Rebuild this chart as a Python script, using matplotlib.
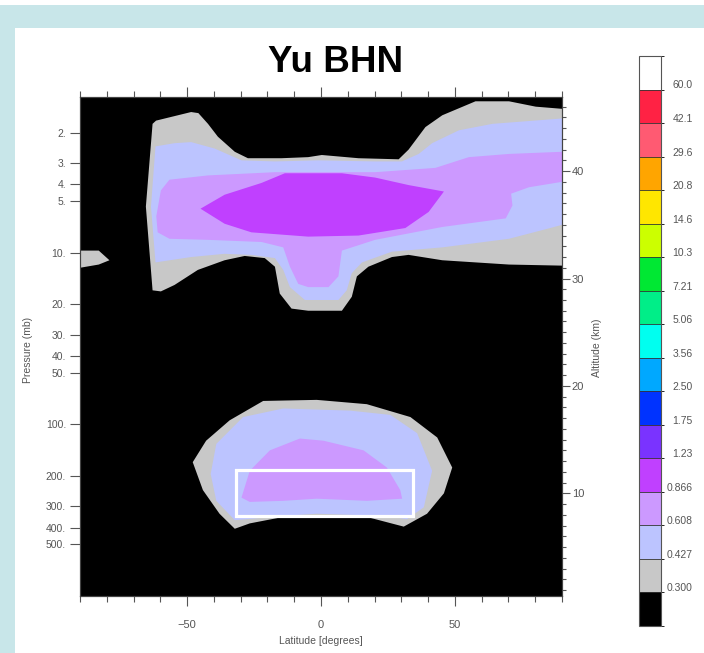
import numpy as np
import matplotlib.pyplot as plt
import matplotlib.cm as cm
from matplotlib.colors import ListedColormap, BoundaryNorm
from matplotlib.patches import Rectangle
from matplotlib.ticker import MultipleLocator

# colour scale (bottom -> top) and boundary labels
level_colors = ['#000000', '#c8c8c8', '#bcc4ff', '#cc99ff', '#c040ff', '#7a33ff',
                '#0033ff', '#00a8ff', '#00fff0', '#00ee88', '#00e833', '#ccff00',
                '#ffe600', '#ffa500', '#ff5a72', '#ff2244', '#ffffff']
level_labels = ['0.300', '0.427', '0.608', '0.866', '1.23', '1.75', '2.50', '3.56',
                '5.06', '7.21', '10.3', '14.6', '20.8', '29.6', '42.1', '60.0']

pressure_ticks = [2, 3, 4, 5, 10, 20, 30, 40, 50, 100, 200, 300, 400, 500]
alt_ticks = [10, 20, 30, 40]
lat_ticks = [-50, 0, 50]

# contour regions: latitude (deg) / altitude (km), top and bottom edges
blob_top_lat = [-90, -83, -79]
blob_top_alt = [32.6, 32.6, 31.7]
blob_bot_lat = [-90, -83, -79]
blob_bot_alt = [31.0, 31.3, 31.7]

up_gray_top_lat = [-65.4, -62.9, -61.6, -48.5, -45.8, -42.2, -38.5, -32.2, -27.3, -14.8, -4.8,
                   0.3, 14, 29, 32.7, 39, 45.3, 57.7, 70.2, 80.2, 90]
up_gray_top_alt = [36.7, 44.4, 44.7, 45.5, 45.4, 44.4, 43.2, 41.8, 41.2, 41.2, 41.3,
                   41.5, 41.2, 41.1, 42.0, 44.1, 45.2, 46.5, 46.5, 46.0, 45.8]
up_gray_bot_lat = [-65.4, -62.9, -59.8, -54.7, -46, -36, -28.5, -21, -17.2, -15.4, -11,
                   -4.8, 7.8, 11.5, 13.4, 17.7, 26.5, 32.7, 45.3, 70.2, 90]
up_gray_bot_alt = [36.7, 28.9, 28.8, 29.4, 30.8, 31.7, 32.1, 31.9, 31.1, 28.6, 27.2,
                   27.0, 27.0, 28.3, 30.2, 31.1, 32.0, 32.2, 31.7, 31.3, 31.2]

up_lav_top_lat = [-63.5, -61.8, -54.7, -48.5, -39.7, -29.7, -17.2, -1.0, 20.2, 30.2, 36.5,
                  41.5, 51.5, 64, 90]
up_lav_top_alt = [36.7, 42.3, 42.6, 42.7, 42.1, 41.0, 40.9, 41.0, 40.9, 40.9, 41.6,
                  42.6, 43.8, 44.4, 44.9]
up_lav_bot_lat = [-63.5, -61.8, -48.5, -36, -26, -17.2, -14.1, -11.6, -6, 6.5, 9.6,
                  11.5, 15.3, 26.5, 45.3, 70.2, 85.6, 90]
up_lav_bot_alt = [36.7, 31.5, 32.0, 32.3, 32.2, 31.9, 30.8, 29.2, 28.0, 28.0, 28.9,
                  30.5, 31.5, 32.5, 32.9, 33.7, 34.7, 35.0]

up_vio_top_lat = [-61.5, -59.8, -56.6, -42.2, -17.2, 20.2, 42.7, 55.2, 70.2, 90]
up_vio_top_alt = [35.8, 38.2, 39.2, 39.6, 39.9, 39.9, 40.3, 41.3, 41.6, 41.8]
up_vio_bot_lat = [-61.5, -61, -56.6, -42.2, -22.2, -14.1, -11.6, -8.5, -4.8, 2.8, 6.5,
                  7.8, 20.2, 45.3, 69, 71.5, 71, 77.7, 90]
up_vio_bot_alt = [35.8, 34.3, 33.7, 33.6, 33.4, 32.9, 31.1, 29.5, 29.2, 29.2, 30.2,
                  32.6, 33.6, 34.8, 35.6, 36.8, 37.9, 38.5, 39.0]

up_pur_top_lat = [-45, -36, -22.2, -13.5, 7.8, 20.2, 32.7, 45.9]
up_pur_top_alt = [36.5, 37.8, 38.9, 39.8, 39.8, 39.4, 38.7, 38.1]
up_pur_bot_lat = [-45, -36, -26, -4.8, 14, 31.5, 40.2, 45.9]
up_pur_bot_alt = [36.5, 35.1, 34.3, 33.9, 34.0, 34.7, 36.2, 38.1]

lo_gray_top_lat = [-47.9, -42.9, -34.1, -21.6, -1.6, 17.1, 33.4, 43.4, 49]
lo_gray_top_alt = [12.9, 14.9, 16.8, 18.6, 18.7, 18.3, 17.1, 15.2, 12.4]
lo_gray_bot_lat = [-47.9, -44.1, -37.9, -32.2, -26.6, -14.1, -1.6, 17.1, 30.9, 39.6, 45.9, 49]
lo_gray_bot_alt = [12.9, 10.3, 8.1, 6.7, 7.2, 7.8, 7.9, 7.8, 6.9, 8.1, 10.0, 12.4]

lo_lav_top_lat = [-41.2, -39.1, -29.1, -14.1, 10.9, 25.9, 35.9, 41.5]
lo_lav_top_alt = [11.8, 14.6, 17.1, 17.9, 17.7, 17.3, 15.6, 12.1]
lo_lav_bot_lat = [-41.2, -39.1, -32.2, -14.1, -1.6, 23.4, 32.1, 38.4, 41.5]
lo_lav_bot_alt = [11.8, 9.3, 7.5, 7.9, 8.1, 7.9, 7.6, 8.7, 12.1]

lo_vio_top_lat = [-29.7, -26.6, -19.1, -7.9, 0.9, 15.9, 24.6, 29.6, 30.3]
lo_vio_top_alt = [9.6, 12.1, 14.0, 15.1, 14.9, 14.0, 12.4, 10.3, 9.5]
lo_vio_bot_lat = [-29.7, -26.6, -14.1, -1.6, 17.1, 30.3]
lo_vio_bot_alt = [9.6, 9.2, 9.3, 9.5, 9.3, 9.5]

# highlighted box (lat range, altitude range)
box_lat = [-31.6, 34.5]
box_alt = [7.85, 12.15]

fonts = ['Liberation Sans', 'DejaVu Sans']
grey_txt = '#555555'


def p_to_alt(p):
    return 6.94 * np.log(1000.0 / np.asarray(p, dtype=float)) + 0.44


def fill_region(ax, top_lat, top_alt, bot_lat, bot_alt, color):
    xs = list(top_lat) + list(bot_lat)[::-1]
    ys = list(top_alt) + list(bot_alt)[::-1]
    ax.fill(xs, ys, color=color, lw=0, zorder=2)


fig = plt.figure(figsize=(7.04, 6.53), dpi=100, facecolor='#c8e6e9')
fig.add_artist(Rectangle((15 / 704, 0), 1, 625 / 653, transform=fig.transFigure,
                         facecolor='white', edgecolor='none', zorder=-1))
fig.add_artist(Rectangle((0, 1 - 5 / 653), 1, 5 / 653, transform=fig.transFigure,
                         facecolor='white', edgecolor='none', zorder=-1))

ax = fig.add_axes([80 / 704, 57 / 653, 482 / 704, 499 / 653])
ax.set_facecolor('black')
ax.set_xlim(-90, 90)
ax.set_ylim(p_to_alt(1000), 46.9)

gray, lav, vio, pur = level_colors[1], level_colors[2], level_colors[3], level_colors[4]
fill_region(ax, blob_top_lat, blob_top_alt, blob_bot_lat, blob_bot_alt, gray)
fill_region(ax, up_gray_top_lat, up_gray_top_alt, up_gray_bot_lat, up_gray_bot_alt, gray)
fill_region(ax, up_lav_top_lat, up_lav_top_alt, up_lav_bot_lat, up_lav_bot_alt, lav)
fill_region(ax, up_vio_top_lat, up_vio_top_alt, up_vio_bot_lat, up_vio_bot_alt, vio)
fill_region(ax, up_pur_top_lat, up_pur_top_alt, up_pur_bot_lat, up_pur_bot_alt, pur)
fill_region(ax, lo_gray_top_lat, lo_gray_top_alt, lo_gray_bot_lat, lo_gray_bot_alt, gray)
fill_region(ax, lo_lav_top_lat, lo_lav_top_alt, lo_lav_bot_lat, lo_lav_bot_alt, lav)
fill_region(ax, lo_vio_top_lat, lo_vio_top_alt, lo_vio_bot_lat, lo_vio_bot_alt, vio)

ax.add_patch(Rectangle((box_lat[0], box_alt[0]), box_lat[1] - box_lat[0], box_alt[1] - box_alt[0],
                       fill=False, edgecolor='white', lw=2.3, zorder=3))

# left axis: pressure
ax.set_yticks(p_to_alt(pressure_ticks))
ax.set_yticklabels([f'{p}.' for p in pressure_ticks], family=fonts)
ax.tick_params(axis='y', direction='out', length=7, width=0.8, color=grey_txt,
               labelcolor=grey_txt, labelsize=7.5, pad=3)

# bottom / top: latitude
ax.set_xticks(lat_ticks)
ax.set_xticklabels(['\u221250', '0', '50'], family=fonts)
ax.xaxis.set_minor_locator(MultipleLocator(10))
ax.tick_params(axis='x', which='major', direction='out', length=7, width=0.8, top=True,
               color=grey_txt, labelcolor=grey_txt, labelsize=8, pad=10)
ax.tick_params(axis='x', which='minor', direction='out', length=4, width=0.8, top=True,
               color=grey_txt)
for s in ax.spines.values():
    s.set_color('#444444')

# right axis: altitude
ax2 = ax.twinx()
ax2.set_ylim(ax.get_ylim())
ax2.set_yticks(alt_ticks)
ax2.set_yticklabels([str(a) for a in alt_ticks], family=fonts)
ax2.yaxis.set_minor_locator(MultipleLocator(1))
ax2.tick_params(axis='y', which='major', direction='out', length=6, width=0.8,
                color=grey_txt, labelcolor=grey_txt, labelsize=8, pad=1)
ax2.tick_params(axis='y', which='minor', direction='out', length=3, width=0.8, color=grey_txt)
for s in ax2.spines.values():
    s.set_color('#444444')

fig.text(336 / 704, 1 - 63 / 653, 'Yu BHN', ha='center', va='center', fontsize=26.5,
         fontweight='bold', family=fonts)
fig.text(321 / 704, 1 - 641 / 653, 'Latitude [degrees]', ha='center', va='center',
         fontsize=7.5, color=grey_txt, family=fonts)
fig.text(28 / 704, 1 - 350 / 653, 'Pressure (mb)', ha='center', va='center', rotation=90,
         fontsize=7.5, color=grey_txt, family=fonts)
fig.text(597 / 704, 1 - 348 / 653, 'Altitude (km)', ha='center', va='center', rotation=90,
         fontsize=7.5, color=grey_txt, family=fonts)

# colour bar
cax = fig.add_axes([639 / 704, 27 / 653, 22 / 704, 570 / 653])
sm = cm.ScalarMappable(norm=BoundaryNorm(np.arange(18), 17), cmap=ListedColormap(level_colors))
cb = fig.colorbar(sm, cax=cax, ticks=np.arange(1, 17) + 0.15, drawedges=True)
cb.ax.set_yticklabels(level_labels, family=fonts)
cb.ax.tick_params(length=0, pad=23, labelsize=7.5, labelcolor=grey_txt)
for lbl in cb.ax.get_yticklabels():
    lbl.set_horizontalalignment('right')
cb.outline.set_edgecolor('#555555')
cb.outline.set_linewidth(0.8)
cb.dividers.set_color('#333333')
cb.dividers.set_linewidth(0.6)

fig.savefig('out.png', dpi=100, facecolor=fig.get_facecolor())
